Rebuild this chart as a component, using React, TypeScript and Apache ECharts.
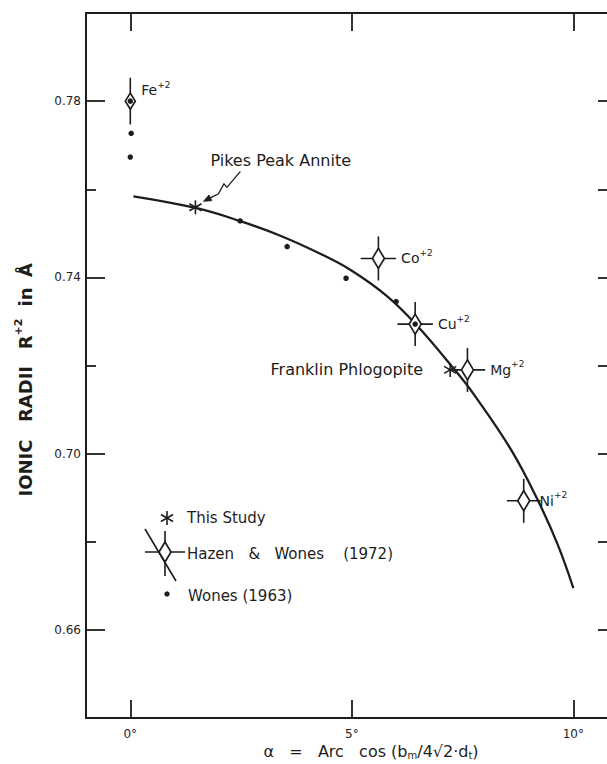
import React, { useEffect, useRef } from 'react';
import * as echarts from 'echarts';

// ---- data ----
const curveX = [0.07, 1.5, 2.5, 3.4, 4.3, 5.0, 5.8, 6.45, 7.3, 7.75, 8.6, 9.2, 9.65, 10.0];
const curveY = [0.7584, 0.7557, 0.7527, 0.7494, 0.7453, 0.7415, 0.7357, 0.7293, 0.7193, 0.7135, 0.7008, 0.6894, 0.6793, 0.6695];

const studyNames = ['Pikes Peak Annite', 'Franklin Phlogopite'];
const studyX = [1.47, 7.22];
const studyY = [0.7559, 0.719];

const hwIons = ['Fe', 'Co', 'Cu', 'Mg', 'Ni'];
const hwX = [0.0, 5.6, 6.43, 7.61, 8.88];
const hwY = [0.78, 0.7443, 0.7294, 0.719, 0.6893];
const hwXErr = [0, 0.4, 0.4, 0.4, 0.38];
const hwYErr = [0.0053, 0.005, 0.005, 0.005, 0.005];

const wonesX = [0.0, 0.02, 0.0, 2.48, 3.54, 4.87, 6.0, 6.43];
const wonesY = [0.78, 0.7727, 0.7673, 0.7528, 0.747, 0.7398, 0.7345, 0.7294];

const xTicks = [0, 5, 10];
const yMajorTicks = [0.66, 0.7, 0.74, 0.78];
const yMinorTicks = [0.68, 0.72, 0.76];
const yAllTicks = [0.66, 0.68, 0.7, 0.72, 0.74, 0.76, 0.78];

// ---- styling ----
const INK = '#1d1d1d';
const FONT = 'DejaVu Sans';
const labelGap = [0, 5, 5, 5, -1];

function starLines(cx: number, cy: number, r: number, lw: number) {
  const a = Math.PI / 6;
  const dx = r * Math.cos(a);
  const dy = r * Math.sin(a);
  const st = { stroke: INK, lineWidth: lw };
  return [
    { type: 'line', shape: { x1: cx, y1: cy - r, x2: cx, y2: cy + r }, style: st },
    { type: 'line', shape: { x1: cx - dx, y1: cy - dy, x2: cx + dx, y2: cy + dy }, style: st },
    { type: 'line', shape: { x1: cx - dx, y1: cy + dy, x2: cx + dx, y2: cy - dy }, style: st },
  ];
}

const supRich = {
  b: { fontSize: 14, lineHeight: 20, fontFamily: FONT, fill: INK, color: INK },
  s: { fontSize: 9, lineHeight: 9, fontFamily: FONT, fill: INK, color: INK, verticalAlign: 'top' },
};

function hazenRender(params: any, api: any) {
  const i = params.dataIndex;
  const x = api.value(0);
  const y = api.value(1);
  const ex = api.value(2);
  const ey = api.value(3);
  const c = api.coord([x, y]);
  const top = api.coord([x, y + ey]);
  const bot = api.coord([x, y - ey]);
  const left = api.coord([x - ex, y]);
  const right = api.coord([x + ex, y]);
  const hw = i === 0 ? 5 : 6;
  const hh = i === 0 ? 8 : 10;
  const st = { stroke: INK, lineWidth: 1.6 };
  const children: any[] = [
    { type: 'line', shape: { x1: top[0], y1: top[1], x2: bot[0], y2: bot[1] }, style: st },
  ];
  if (ex > 0) {
    children.push({ type: 'line', shape: { x1: left[0], y1: left[1], x2: right[0], y2: right[1] }, style: st });
  }
  children.push({
    type: 'polygon',
    shape: { points: [[c[0], c[1] - hh], [c[0] + hw, c[1]], [c[0], c[1] + hh], [c[0] - hw, c[1]]] },
    style: { fill: '#fff', stroke: INK, lineWidth: 1.7 },
  });
  const lx = ex > 0 ? right[0] + labelGap[i] : c[0] + 11;
  const ly = ex > 0 ? c[1] : c[1] - 11;
  children.push({
    type: 'text',
    x: lx,
    y: ly,
    style: {
      text: `{b|${hwIons[i]}}{s|+2}`,
      rich: supRich,
      fill: INK,
      align: 'left',
      verticalAlign: 'middle',
    },
  });
  return { type: 'group', children };
}

function studyRender(params: any, api: any) {
  const i = params.dataIndex;
  const c = api.coord([api.value(0), api.value(1)]);
  const children: any[] = starLines(c[0], c[1], 7, 1.6);
  const textStyle = { fontSize: 16, fontFamily: FONT, fill: INK };
  if (i === 0) {
    children.push({
      type: 'text',
      x: c[0] + 15,
      y: c[1] - 47,
      style: { ...textStyle, text: studyNames[i], align: 'left', verticalAlign: 'middle' },
    });
    const pts = [
      [c[0] + 45, c[1] - 36],
      [c[0] + 31.5, c[1] - 20],
      [c[0] + 28.5, c[1] - 23.5],
      [c[0] + 23, c[1] - 13.5],
      [c[0] + 15, c[1] - 9.5],
    ];
    children.push({ type: 'polyline', shape: { points: pts }, style: { stroke: INK, lineWidth: 1.3, fill: 'none' } });
    const tip = [c[0] + 8, c[1] - 6];
    const base = [c[0] + 15, c[1] - 9.5];
    const dxv = tip[0] - base[0];
    const dyv = tip[1] - base[1];
    const len = Math.sqrt(dxv * dxv + dyv * dyv);
    const px = (-dyv / len) * 3.2;
    const py = (dxv / len) * 3.2;
    children.push({
      type: 'polygon',
      shape: { points: [tip, [base[0] + px, base[1] + py], [base[0] - px, base[1] - py]] },
      style: { fill: INK, stroke: INK, lineWidth: 0.8 },
    });
  } else {
    children.push({
      type: 'text',
      x: c[0] - 27,
      y: c[1],
      style: { ...textStyle, text: studyNames[i], align: 'right', verticalAlign: 'middle' },
    });
  }
  return { type: 'group', children };
}

const axisLineStyle = { color: INK, width: 2 };
const tickStyle = { color: INK, width: 1.8 };

function buildOption() {
  const legendText = { fontSize: 15, fontFamily: FONT, fill: INK, verticalAlign: 'middle', align: 'left' };
  const yTitleStyle = { fontSize: 18, fontWeight: 'bold', fontFamily: FONT, fill: INK, align: 'center', verticalAlign: 'middle' };
  const yTitleWords: [string, number][] = [
    ['IONIC', 468],
    ['RADII', 394],
    ['in', 297],
    ['Å', 270],
  ];
  const graphic: any[] = [
    // legend
    ...starLines(167, 518, 7, 1.6),
    { type: 'text', x: 187, y: 518, style: { ...legendText, text: 'This Study' } },
    { type: 'line', shape: { x1: 145, y1: 529, x2: 176, y2: 581 }, style: { stroke: INK, lineWidth: 1.6 } },
    { type: 'line', shape: { x1: 165, y1: 531, x2: 165, y2: 576 }, style: { stroke: INK, lineWidth: 1.6 } },
    { type: 'line', shape: { x1: 145, y1: 552, x2: 185, y2: 552 }, style: { stroke: INK, lineWidth: 1.6 } },
    {
      type: 'polygon',
      shape: { points: [[165, 542], [171, 552], [165, 562], [159, 552]] },
      style: { fill: '#fff', stroke: INK, lineWidth: 1.7 },
    },
    { type: 'text', x: 187, y: 554, style: { ...legendText, text: 'Hazen   &   Wones    (1972)' } },
    { type: 'circle', shape: { cx: 167, cy: 594, r: 2.7 }, style: { fill: INK } },
    { type: 'text', x: 188, y: 596, style: { ...legendText, text: 'Wones (1963)' } },
    // y-axis title
    ...yTitleWords.map(([w, y]) => ({
      type: 'text',
      x: 25,
      y,
      rotation: Math.PI / 2,
      style: { ...yTitleStyle, text: w },
    })),
    {
      type: 'text',
      x: 25,
      y: 334,
      rotation: Math.PI / 2,
      style: {
        text: '{b|R}{s|+2}',
        align: 'center',
        verticalAlign: 'middle',
        fill: INK,
        rich: {
          b: { fontSize: 18, fontWeight: 'bold', fontFamily: FONT, fill: INK, color: INK, lineHeight: 24 },
          s: { fontSize: 11, fontWeight: 'bold', fontFamily: FONT, fill: INK, color: INK, lineHeight: 11, verticalAlign: 'top' },
        },
      },
    },
    // x-axis title
    {
      type: 'text',
      x: 371,
      y: 751,
      style: {
        text: '{t|α   =   Arc   cos (b}{u|m}{t|/4√2·d}{u|t}{t|)}',
        align: 'center',
        verticalAlign: 'middle',
        fill: INK,
        rich: {
          t: { fontSize: 16, fontFamily: FONT, fill: INK, color: INK, lineHeight: 18 },
          u: { fontSize: 10, fontFamily: FONT, fill: INK, color: INK, lineHeight: 10, verticalAlign: 'bottom' },
        },
      },
    },
  ];

  const baseX = { type: 'value', min: -1, max: 10.76, splitLine: { show: false } };
  const baseY = { type: 'value', min: 0.64, max: 0.8, splitLine: { show: false } };

  return {
    animation: false,
    backgroundColor: '#ffffff',
    grid: { left: 86, top: 13, right: 0, bottom: 46 },
    xAxis: [
      {
        ...baseX,
        position: 'bottom',
        axisLine: { show: true, onZero: false, lineStyle: axisLineStyle },
        axisTick: { show: true, inside: true, length: 18, customValues: xTicks, lineStyle: tickStyle },
        axisLabel: {
          show: true,
          customValues: xTicks,
          formatter: (v: number) => `${v}°`,
          margin: 10,
          fontSize: 12,
          color: INK,
          fontFamily: FONT,
        },
      },
      {
        ...baseX,
        position: 'top',
        axisLine: { show: true, onZero: false, lineStyle: axisLineStyle },
        axisTick: { show: true, inside: true, length: 18, customValues: xTicks, lineStyle: tickStyle },
        axisLabel: { show: false },
      },
    ],
    yAxis: [
      {
        ...baseY,
        position: 'left',
        axisLine: { show: true, onZero: false, lineStyle: axisLineStyle },
        axisTick: { show: true, inside: true, length: 10, customValues: yMinorTicks, lineStyle: tickStyle },
        axisLabel: {
          show: true,
          customValues: yMajorTicks,
          formatter: (v: number) => v.toFixed(2),
          margin: 5,
          fontSize: 12,
          color: INK,
          fontFamily: FONT,
        },
      },
      {
        ...baseY,
        position: 'left',
        axisLine: { show: false, onZero: false },
        axisTick: { show: true, inside: true, length: 19, customValues: yMajorTicks, lineStyle: tickStyle },
        axisLabel: { show: false },
      },
      {
        ...baseY,
        position: 'right',
        axisLine: { show: false, onZero: false },
        axisTick: { show: true, inside: true, length: 9, customValues: yAllTicks, lineStyle: tickStyle },
        axisLabel: { show: false },
      },
    ],
    series: [
      {
        type: 'line',
        name: 'curve',
        xAxisIndex: 0,
        yAxisIndex: 0,
        data: curveX.map((x, i) => [x, curveY[i]]),
        smooth: 0.4,
        showSymbol: false,
        symbol: 'none',
        lineStyle: { color: INK, width: 2.3 },
        z: 2,
      },
      {
        type: 'custom',
        name: 'Hazen & Wones (1972)',
        xAxisIndex: 0,
        yAxisIndex: 0,
        clip: false,
        data: hwX.map((x, i) => [x, hwY[i], hwXErr[i], hwYErr[i]]),
        encode: { x: 0, y: 1 },
        renderItem: hazenRender,
        z: 3,
      },
      {
        type: 'scatter',
        name: 'Wones (1963)',
        xAxisIndex: 0,
        yAxisIndex: 0,
        data: wonesX.map((x, i) => [x, wonesY[i]]),
        symbol: 'circle',
        symbolSize: 5.5,
        itemStyle: { color: INK, opacity: 1 },
        z: 5,
      },
      {
        type: 'custom',
        name: 'This Study',
        xAxisIndex: 0,
        yAxisIndex: 0,
        clip: false,
        data: studyX.map((x, i) => [x, studyY[i]]),
        encode: { x: 0, y: 1 },
        renderItem: studyRender,
        z: 4,
      },
    ],
    graphic,
  };
}

export default function App() {
  const ref = useRef<HTMLDivElement>(null);
  useEffect(() => {
    if (!ref.current) return;
    const chart = echarts.init(ref.current, null, { renderer: 'svg' });
    chart.setOption(buildOption() as any);
    return () => chart.dispose();
  }, []);
  return (
    <div
      ref={ref}
      style={{ position: 'absolute', left: 0, top: 0, width: 607, height: 764, background: '#fff' }}
    />
  );
}
